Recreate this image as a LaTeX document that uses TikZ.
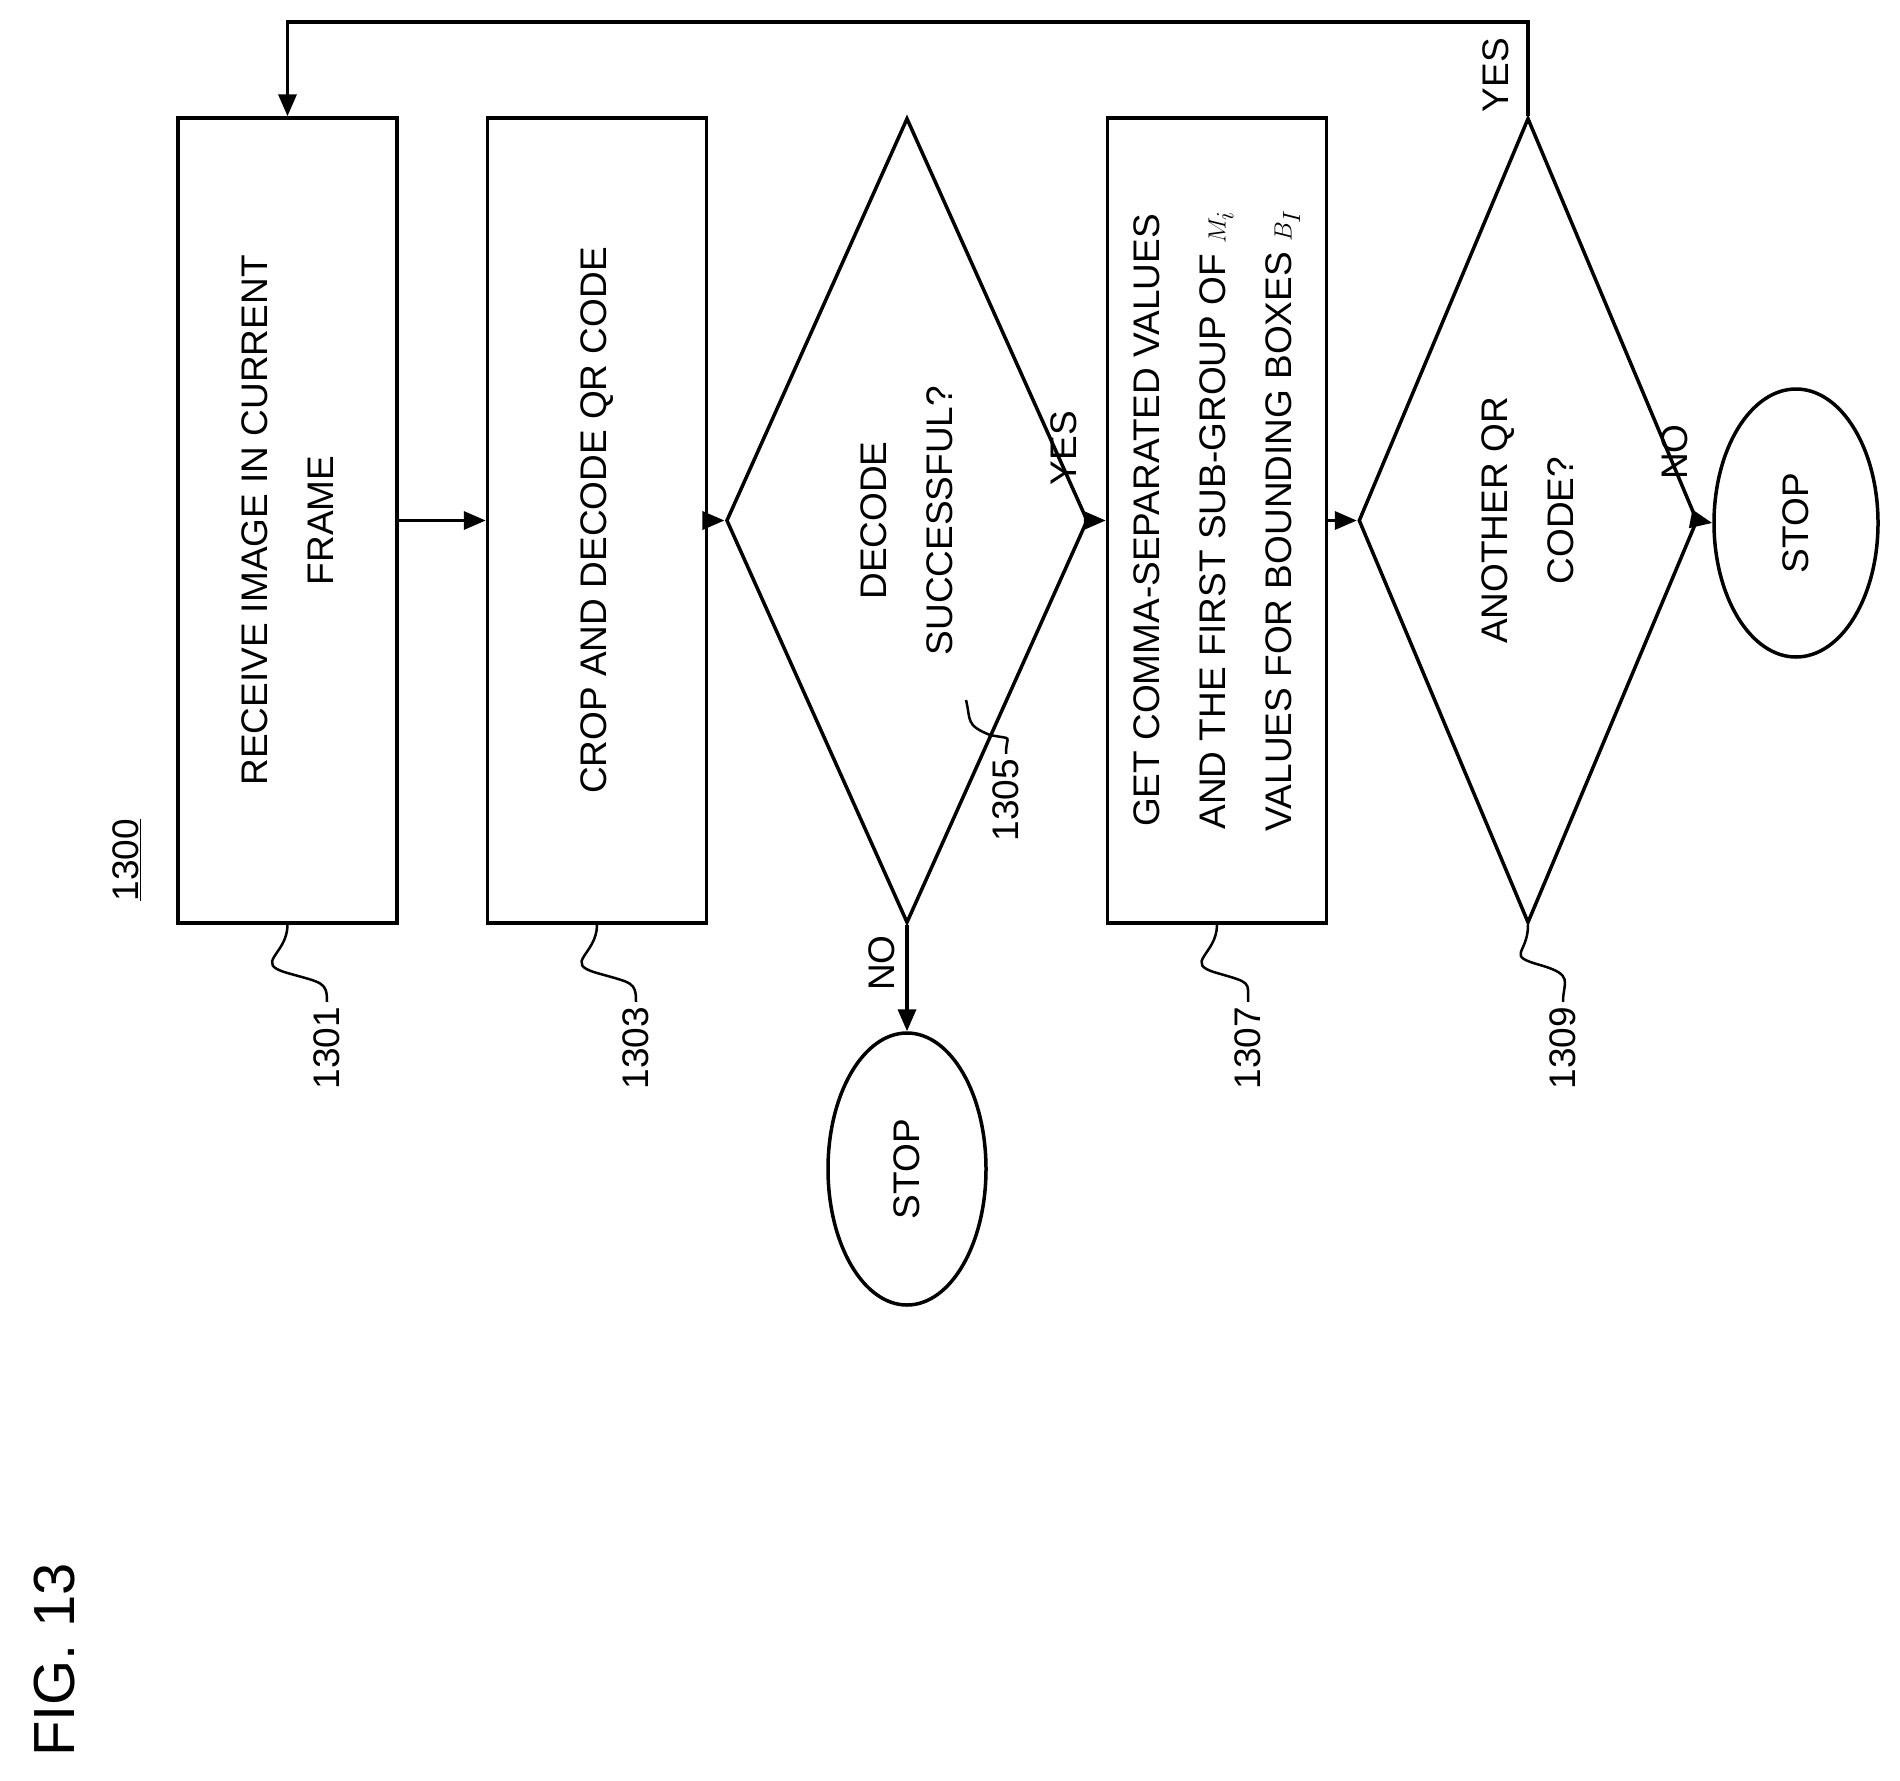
\documentclass[tikz,border=0pt]{standalone}
\usepackage{fontspec}
\setmainfont{Liberation Sans}
\usetikzlibrary{shapes.geometric,arrows.meta}
\begin{document}
\begin{tikzpicture}[x=1pt,y=1pt,line width=3.5pt,
  t/.style={font=\fontsize{37}{66}\selectfont,align=center,rotate=90},
  box/.style={t,draw,rectangle,minimum width=805,minimum height=219,inner sep=0},
  dia/.style={t,draw,diamond,minimum width=805,minimum height=220,inner sep=0},
  stp/.style={t,draw,ellipse,inner sep=0},
  arr/.style={-{Triangle[length=22pt,width=18pt]}},
  num/.style={font=\fontsize{37}{44}\selectfont,rotate=90},
  sq/.style={line width=2.5pt}]
\useasboundingbox (0,0) rectangle (1900,-1780);
\node[box] (b1) at (287.5,-520.5) {RECEIVE IMAGE IN CURRENT\\FRAME};
\node[box] (b2) at (597,-520.5) {CROP AND DECODE QR CODE};
\node[dia] (d1) at (907,-520.5) {DECODE\\SUCCESSFUL?};
\node[box] (b3) at (1217,-520.5) {GET COMMA-SEPARATED VALUES\\AND THE FIRST SUB-GROUP OF $M_i$\\VALUES FOR BOUNDING BOXES $B_I$};
\node[dia] (d2) at (1528,-520.5) {ANOTHER QR\\CODE?};
\node[stp,minimum width=268,minimum height=164] (s1) at (1796,-523) {STOP};
\node[stp,minimum width=272,minimum height=158] (s2) at (907,-1169) {STOP};
\draw[arr] (b1.south) -- (b2.north);
\draw[arr] (b2.south) -- (d1.north);
\draw[arr] (d1.south) -- (b3.north);
\draw[arr] (b3.south) -- (d2.north);
\draw[arr] (d2.south) -- (s1.north);
\draw[arr] (d1.west) -- (s2.east);
\coordinate (lp) at (b1.east |- 0,-22);
\draw[arr] (d2.east) |- (lp) -- (b1.east);
\node[num] (y1) at (1064,-448) {YES};
\node[num] (y2) at (1496,-75) {YES};
\node[num] (n1) at (882,-963) {NO};
\node[num] (n2) at (1675,-452) {NO};
\node[num] (l0) at (127,-860) {\underline{1300}};
\node[num] (l1) at (327,-1048) {1301};
\node[num] (l2) at (636,-1048) {1303};
\node[num] (l3) at (1006,-800) {1305};
\node[num] (l4) at (1248,-1048) {1307};
\node[num] (l5) at (1563,-1048) {1309};
\node[font=\fontsize{58}{66}\selectfont,rotate=90] (fig) at (55,-1660) {FIG. 13};
\foreach \b/\l in {b1/l1,b2/l2,b3/l4}{
  \draw[sq] (\b.west) .. controls +(0,-30) and +(-35,10) .. ([yshift=-8]\b.west |- 0,-965) .. controls +(35,-10) and +(0,20) .. (\l.east);
}
\draw[sq] (d2.west) .. controls +(0,-30) and +(-35,10) .. (1540,-965) .. controls +(35,-10) and +(0,20) .. (l5.east);
\coordinate (c3) at (966,-700);
\draw[sq] (c3) .. controls +(5,-20) and +(-25,10) .. (990,-735) .. controls +(25,-5) and +(0,20) .. (l3.east);
\end{tikzpicture}
\end{document}
